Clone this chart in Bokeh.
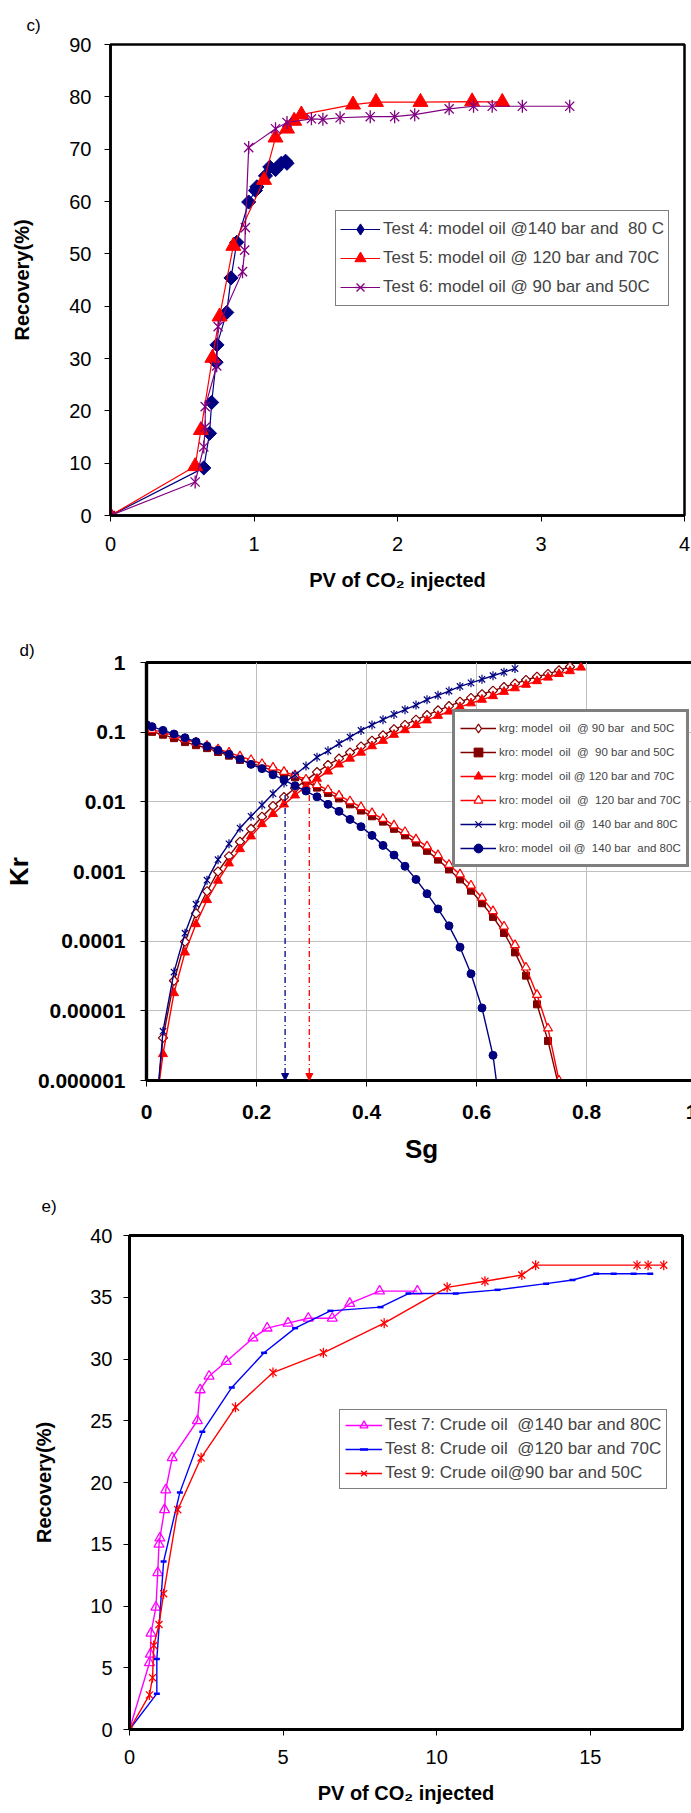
import numpy as np
from bokeh.plotting import figure
from bokeh.models import (Legend, LegendItem, FixedTicker, CustomJSTickFormatter,
                          Arrow, NormalHead, Range1d, Title)
from bokeh.embed import file_html
from bokeh.resources import INLINE

FONT = "Liberation Sans"

# ---------------- panel c data ----------------
c_t4_x = [0, 0.65, 0.69, 0.705, 0.736, 0.742, 0.81, 0.84, 0.88, 0.963, 1.01, 1.02, 1.08, 1.11, 1.15, 1.19, 1.22, 1.23]
c_t4_y = [0, 9.1, 15.7, 21.6, 29.3, 32.6, 38.8, 45.4, 52.2, 59.9, 62.1, 62.8, 64.9, 66.6, 66.1, 67.3, 67.7, 67.3]
c_t5_x = [0, 0.59, 0.63, 0.71, 0.76, 0.856, 1.07, 1.15, 1.23, 1.28, 1.33, 1.69, 1.85, 2.16, 2.52, 2.73]
c_t5_y = [0, 9.4, 16.3, 30.1, 38.0, 51.5, 64.1, 72.2, 73.9, 75.4, 76.6, 78.5, 79.0, 79.0, 79.1, 79.0]
c_t6_x = [0, 0.59, 0.65, 0.66, 0.66, 0.74, 0.75, 0.92, 0.935, 0.94, 0.963, 1.15, 1.23, 1.40, 1.48, 1.60,
          1.81, 1.98, 2.12, 2.36, 2.53, 2.66, 2.87, 3.20]
c_t6_y = [0, 6.4, 13.1, 16.9, 20.8, 28.6, 36.1, 46.6, 50.7, 55.0, 70.3, 73.9, 75.1, 75.8, 75.7, 76.0,
          76.2, 76.2, 76.6, 77.7, 78.2, 78.2, 78.2, 78.2]
c_labels = ["Test 4: model oil @140 bar and  80 C",
            "Test 5: model oil @ 120 bar and 70C",
            "Test 6: model oil @ 90 bar and 50C"]
c_xticks = [0, 1, 2, 3, 4]
c_yticks = [0, 10, 20, 30, 40, 50, 60, 70, 80, 90]

# ---------------- panel d data ----------------
sg_kro140 = [0.0, 0.01, 0.03, 0.05, 0.07, 0.09, 0.11, 0.13, 0.15, 0.17, 0.19, 0.21, 0.23, 0.25, 0.27, 0.29,
             0.31, 0.33, 0.35, 0.37, 0.39, 0.41, 0.43, 0.45, 0.47, 0.49, 0.51, 0.53, 0.55, 0.57, 0.59, 0.61, 0.63]
kro140 = [0.128, 0.120, 0.106, 0.094, 0.083, 0.073, 0.063, 0.055, 0.048, 0.041, 0.0345, 0.030, 0.0245,
          0.0206, 0.017, 0.0143, 0.0118, 0.0092, 0.0073, 0.0056, 0.0044, 0.0033, 0.00237, 0.00172, 0.00119,
          0.00077, 0.00048, 0.00029, 0.000166, 8.2e-5, 3.4e-5, 1.1e-5, 2.3e-6]
kro140_tail_sg = [0.64]
kro140_tail = [5.8e-7]

sg_kro90 = [0.0, 0.01, 0.03, 0.05, 0.07, 0.09, 0.11, 0.13, 0.15, 0.17, 0.19, 0.21, 0.23, 0.25, 0.27, 0.29,
            0.31, 0.33, 0.35, 0.37, 0.39, 0.41, 0.43, 0.45, 0.47, 0.49, 0.51, 0.53, 0.55, 0.57, 0.59, 0.61,
            0.63, 0.65, 0.67, 0.69, 0.71, 0.73]
kro90 = [0.105, 0.101, 0.092, 0.082, 0.072, 0.065, 0.059, 0.052, 0.046, 0.040, 0.036, 0.032, 0.028, 0.025,
         0.0225, 0.0198, 0.0160, 0.0134, 0.0112, 0.0092, 0.0075, 0.0062, 0.0052, 0.0041, 0.0033, 0.0026,
         0.00198, 0.00148, 0.00107, 0.00077, 0.00053, 0.00035, 0.000223, 0.000131, 6.9e-5, 3.2e-5, 1.24e-5, 3.7e-6]
kro90_tail_sg = [0.75]
kro90_tail = [8e-7]

sg_kro120 = [0.0, 0.01, 0.03, 0.05, 0.07, 0.09, 0.11, 0.13, 0.15, 0.17, 0.19, 0.21, 0.23, 0.25, 0.27, 0.29,
             0.31, 0.33, 0.35, 0.37, 0.39, 0.41, 0.43, 0.45, 0.47, 0.49, 0.51, 0.53, 0.55, 0.57, 0.59, 0.61,
             0.63, 0.65, 0.67, 0.69, 0.71, 0.73, 0.75]
kro120 = [0.112, 0.108, 0.100, 0.089, 0.079, 0.071, 0.064, 0.057, 0.051, 0.045, 0.040, 0.035, 0.031, 0.027,
          0.024, 0.021, 0.0175, 0.0148, 0.0123, 0.0102, 0.0084, 0.0069, 0.0057, 0.0046, 0.0037, 0.0029,
          0.0023, 0.00172, 0.00125, 0.00091, 0.00063, 0.00042, 0.00027, 0.000163, 8.8e-5, 4.2e-5, 1.7e-5,
          5.6e-6, 1.0e-6]

sg_krg140 = [0.03, 0.05, 0.07, 0.09, 0.11, 0.13, 0.15, 0.17, 0.19, 0.21, 0.23, 0.25, 0.27, 0.29, 0.31, 0.33,
             0.35, 0.37, 0.39, 0.41, 0.43, 0.45, 0.47, 0.49, 0.51, 0.53, 0.55, 0.57, 0.59, 0.61, 0.63, 0.65, 0.67]
krg140 = [5.1e-6, 3.6e-5, 1.3e-4, 3.4e-4, 7.5e-4, 1.48e-3, 2.5e-3, 4.2e-3, 6.2e-3, 9.0e-3, 0.0131, 0.0187,
          0.0243, 0.0326, 0.0438, 0.054, 0.0686, 0.085, 0.106, 0.127, 0.151, 0.18, 0.21, 0.245, 0.293, 0.338,
          0.389, 0.453, 0.51, 0.574, 0.646, 0.727, 0.818]
sg_krg90 = [0.03, 0.05, 0.07, 0.09, 0.11, 0.13, 0.15, 0.17, 0.19, 0.21, 0.23, 0.25, 0.27, 0.29, 0.31, 0.33,
            0.35, 0.37, 0.39, 0.41, 0.43, 0.45, 0.47, 0.49, 0.51, 0.53, 0.55, 0.57, 0.59, 0.61, 0.63, 0.65,
            0.67, 0.69, 0.71, 0.73, 0.75, 0.77]
krg90 = [4.1e-6, 2.7e-5, 9.8e-5, 2.5e-4, 5.2e-4, 1.0e-3, 1.66e-3, 2.67e-3, 4.1e-3, 6.1e-3, 8.7e-3, 0.0117,
         0.0157, 0.0203, 0.0267, 0.0338, 0.0418, 0.051, 0.0624, 0.0753, 0.09, 0.11, 0.127, 0.151, 0.176,
         0.206, 0.237, 0.273, 0.31, 0.35, 0.394, 0.443, 0.498, 0.561, 0.624, 0.686, 0.771, 0.868]
sg_krg120 = [0.03, 0.05, 0.07, 0.09, 0.11, 0.13, 0.15, 0.17, 0.19, 0.21, 0.23, 0.25, 0.27, 0.29, 0.31, 0.33,
             0.35, 0.37, 0.39, 0.41, 0.43, 0.45, 0.47, 0.49, 0.51, 0.53, 0.55, 0.57, 0.59, 0.61, 0.63, 0.65,
             0.67, 0.69, 0.71, 0.73, 0.75, 0.77, 0.79]
krg120 = [2.4e-6, 1.8e-5, 6.9e-5, 1.76e-4, 3.9e-4, 7.4e-4, 1.31e-3, 2.1e-3, 3.2e-3, 4.8e-3, 6.7e-3, 9.2e-3,
          0.0124, 0.0166, 0.0215, 0.0273, 0.0345, 0.0418, 0.051, 0.063, 0.0753, 0.092, 0.107, 0.127, 0.148,
          0.172, 0.198, 0.229, 0.26, 0.293, 0.33, 0.38, 0.428, 0.481, 0.541, 0.609, 0.686, 0.753, 0.848]
krg_head_sg = [0.02]
krg_head = [6e-7]

cross_sg = [0.252, 0.296]
cross_kr_top = [0.0125, 0.0125]
d_labels = ["krg: model  oil  @ 90 bar  and 50C",
            "kro: model  oil  @  90 bar and 50C",
            "krg: model  oil @ 120 bar and 70C",
            "kro: model  oil  @  120 bar and 70C",
            "krg: model  oil @  140 bar and 80C",
            "kro: model  oil @  140 bar  and 80C"]
d_xticks = [0, 0.2, 0.4, 0.6, 0.8, 1.0]
d_yticks = [1e-6, 1e-5, 1e-4, 1e-3, 1e-2, 1e-1, 1.0]

# ---------------- panel e data ----------------
e_t7_x = [0, 0.65, 0.68, 0.70, 0.86, 0.92, 0.96, 0.99, 1.14, 1.18, 1.39, 2.21, 2.30, 2.59, 3.15, 4.02,
          4.48, 5.16, 5.82, 6.60, 7.17, 8.14, 9.37]
e_t7_y = [0, 5.4, 6.1, 7.8, 9.9, 12.7, 15.0, 15.5, 17.8, 19.4, 22.0, 25.0, 27.5, 28.6, 29.8, 31.7,
          32.5, 32.9, 33.3, 33.3, 34.5, 35.5, 35.5]
e_t8_x = [0, 0.89, 0.89, 1.11, 1.64, 2.37, 3.33, 4.38, 5.39, 6.54, 8.17, 9.08, 10.62, 11.98, 13.56,
          14.42, 15.19, 15.76, 16.41, 16.95]
e_t8_y = [0, 2.9, 5.7, 13.6, 19.2, 24.1, 27.7, 30.5, 32.5, 33.9, 34.2, 35.3, 35.3, 35.6, 36.1,
          36.4, 36.9, 36.9, 36.9, 36.9]
e_t9_x = [0, 0.65, 0.75, 0.79, 0.96, 1.11, 1.57, 2.33, 3.45, 4.67, 6.31, 8.29, 10.34, 11.57, 12.77,
          13.22, 16.52, 16.88, 17.39]
e_t9_y = [0, 2.8, 4.2, 6.8, 8.5, 11.0, 17.8, 22.0, 26.1, 28.9, 30.5, 32.9, 35.8, 36.3, 36.8,
          37.6, 37.6, 37.6, 37.6]
e_labels = ["Test 7: Crude oil  @140 bar and 80C",
            "Test 8: Crude oil  @120 bar and 70C",
            "Test 9: Crude oil@90 bar and 50C"]
e_xticks = [0, 5, 10, 15]
e_yticks = [0, 5, 10, 15, 20, 25, 30, 35, 40]

NAVY, RED, PURPLE, DKRED = "#000080", "#FF0000", "#800080", "#800000"
MAGENTA, BLUE = "#FF00FF", "#0000FF"


def base_fig(fw, fh, xr, yr, bl, br, bt, bb, tag, tag_offset, tag_standoff, ylog=False, outline=2.5):
    kw = dict(frame_width=fw, frame_height=fh, x_range=xr, y_range=yr,
              min_border_left=bl, min_border_right=br, min_border_top=bt, min_border_bottom=bb,
              output_backend="svg", toolbar_location=None)
    if ylog:
        kw["y_axis_type"] = "log"
    p = figure(**kw)
    p.title = Title(text=tag, align="left", offset=tag_offset, standoff=tag_standoff,
                    text_font=FONT, text_font_size="17px", text_font_style="normal",
                    text_color="black")
    p.background_fill_color = "white"
    p.border_fill_color = "white"
    p.outline_line_color = "black"
    p.outline_line_width = outline
    p.grid.visible = False
    for ax in (p.xaxis[0], p.yaxis[0]):
        ax.axis_line_color = "black"
        ax.axis_line_width = outline
        ax.major_tick_line_color = "black"
        ax.major_tick_line_width = 1
        ax.major_tick_in = 0
        ax.major_tick_out = 6
        ax.minor_tick_line_color = None
        ax.major_label_text_font = FONT
        ax.major_label_text_color = "black"
        ax.axis_label_text_font = FONT
        ax.axis_label_text_font_style = "bold"
        ax.axis_label_text_color = "black"
    return p


def add_star(p, x, y, color, size, lw):
    r1 = p.scatter(x=x, y=y, marker="x", size=size, line_color=color, line_width=lw)
    r2 = p.scatter(x=x, y=y, marker="dash", angle=np.pi / 2, size=size, line_color=color, line_width=lw)
    return [r1, r2]


def make_legend(p, items, loc, fs, glyph_w, gh, spacing, padding, border_w):
    lg = Legend(items=items, location=loc, label_text_font=FONT, label_text_font_size=fs,
                glyph_width=glyph_w, glyph_height=gh, label_height=gh, label_standoff=3,
                spacing=spacing, padding=padding, margin=0,
                border_line_color="black", border_line_width=border_w,
                background_fill_color="white", background_fill_alpha=1.0)
    p.add_layout(lg)


# ================= panel c =================
pc = base_fig(574, 471, Range1d(0, 4), Range1d(0, 90), 110, 7, 44, 105, "c)", -84, 19)
pc.xaxis[0].ticker = FixedTicker(ticks=c_xticks)
pc.yaxis[0].ticker = FixedTicker(ticks=c_yticks)
for ax in (pc.xaxis[0], pc.yaxis[0]):
    ax.major_label_text_font_size = "20px"
    ax.axis_label_text_font_size = "20px"
pc.xaxis[0].major_label_standoff = 15
pc.yaxis[0].major_label_standoff = 13
pc.yaxis[0].axis_label = "Recovery(%)"
pc.yaxis[0].axis_label_standoff = 33
pc.xaxis[0].axis_label = "PV of CO\u2082 injected"
pc.xaxis[0].axis_label_standoff = 15

l4 = pc.line(c_t4_x, c_t4_y, line_color=NAVY, line_width=1.2)
# legend-only diamond (drawn tiny underneath the rotated squares)
m4_leg = pc.scatter(c_t4_x, c_t4_y, marker="diamond", size=1, fill_color=NAVY, line_color=NAVY)
m4 = pc.scatter(c_t4_x, c_t4_y, marker="square", angle=np.pi / 4, size=10, fill_color=NAVY, line_color=NAVY)
l5 = pc.line(c_t5_x, c_t5_y, line_color=RED, line_width=1.2)
m5 = pc.scatter(c_t5_x, c_t5_y, marker="triangle", size=15, fill_color=RED, line_color=RED)
l6 = pc.line(c_t6_x, c_t6_y, line_color=PURPLE, line_width=1.2)
m6 = add_star(pc, c_t6_x, c_t6_y, PURPLE, 13, 1.3)

make_legend(pc, [LegendItem(label=c_labels[0], renderers=[l4, m4_leg]),
                 LegendItem(label=c_labels[1], renderers=[l5, m5]),
                 LegendItem(label=c_labels[2], renderers=[l6] + m6)],
            (225, 209), "17px", 40, 28, 1, 4, 1.2)

# ================= panel d =================
pdd = base_fig(550, 418, Range1d(0, 1), Range1d(1e-6, 1), 140, 1, 42, 90, "d)", -127, 6,
               ylog=True, outline=3.2)
pdd.xaxis[0].ticker = FixedTicker(ticks=d_xticks)
pdd.yaxis[0].ticker = FixedTicker(ticks=d_yticks, minor_ticks=[])
pdd.xaxis[0].formatter = CustomJSTickFormatter(code="return tick.toFixed(1).replace(/\\.0$/, '');")
pdd.yaxis[0].formatter = CustomJSTickFormatter(
    code="const n = Math.round(-Math.log10(tick)); return n <= 0 ? '1' : tick.toFixed(n);")
for ax in (pdd.xaxis[0], pdd.yaxis[0]):
    ax.major_label_text_font_size = "21px"
    ax.major_label_text_font_style = "bold"
    ax.axis_label_text_font_size = "26px"
pdd.xaxis[0].major_label_standoff = 18
pdd.yaxis[0].major_label_standoff = 15
pdd.xaxis[0].axis_label = "Sg"
pdd.xaxis[0].axis_label_standoff = 12
pdd.yaxis[0].axis_label = "Kr"
pdd.yaxis[0].axis_label_standoff = 1
pdd.xgrid.visible = True
pdd.ygrid.visible = True
pdd.xgrid.ticker = FixedTicker(ticks=d_xticks)
pdd.ygrid.ticker = FixedTicker(ticks=d_yticks, minor_ticks=[])
pdd.grid.grid_line_color = "#C0C0C0"
pdd.grid.grid_line_width = 1

LW = 1.4
a1 = pdd.line(krg_head_sg + sg_krg90, krg_head + krg90, line_color=DKRED, line_width=LW)
b1_leg = pdd.scatter(sg_krg90, krg90, marker="diamond", size=1, fill_color="white", line_color=DKRED,
                     line_width=1.2)
b1 = pdd.scatter(sg_krg90, krg90, marker="square", angle=np.pi / 4, size=6.5,
                 fill_color="white", line_color=DKRED, line_width=1.2)
a2 = pdd.line(sg_kro90 + kro90_tail_sg, kro90 + kro90_tail, line_color=DKRED, line_width=LW)
b2 = pdd.scatter(sg_kro90, kro90, marker="square", size=7, fill_color=DKRED, line_color=DKRED)
a3 = pdd.line(krg_head_sg + sg_krg120, krg_head + krg120, line_color=RED, line_width=LW)
b3 = pdd.scatter(sg_krg120, krg120, marker="triangle", size=9, fill_color=RED, line_color=RED)
a4 = pdd.line(sg_kro120, kro120, line_color=RED, line_width=LW)
b4 = pdd.scatter(sg_kro120, kro120, marker="triangle", size=9, fill_color="white", line_color=RED,
                 line_width=1.2)
a5 = pdd.line(krg_head_sg + sg_krg140, krg_head + krg140, line_color=NAVY, line_width=LW)
b5 = add_star(pdd, sg_krg140, krg140, NAVY, 9, 1.2)
a6 = pdd.line(sg_kro140 + kro140_tail_sg, kro140 + kro140_tail, line_color=NAVY, line_width=LW)
b6 = pdd.scatter(sg_kro140, kro140, marker="circle", size=8, fill_color=NAVY, line_color=NAVY)

for sgv, top, col in zip(cross_sg, cross_kr_top, [NAVY, RED]):
    pdd.add_layout(Arrow(end=NormalHead(size=7, fill_color=col, line_color=col),
                         x_start=sgv, y_start=top, x_end=sgv, y_end=1e-6,
                         line_color=col, line_width=1.3, line_dash="6 3 1 3"))

make_legend(pdd, [LegendItem(label=d_labels[0], renderers=[a1, b1_leg]),
                  LegendItem(label=d_labels[1], renderers=[a2, b2]),
                  LegendItem(label=d_labels[2], renderers=[a3, b3]),
                  LegendItem(label=d_labels[3], renderers=[a4, b4]),
                  LegendItem(label=d_labels[4], renderers=[a5] + b5),
                  LegendItem(label=d_labels[5], renderers=[a6, b6])],
            (306, 213), "11.5px", 36, 22, 2, 5, 3)

# ================= panel e =================
pe = base_fig(553, 494, Range1d(0, 18), Range1d(0, 40), 129, 9, 65, 84, "e)", -88, 40, outline=3)
pe.xaxis[0].ticker = FixedTicker(ticks=e_xticks)
pe.yaxis[0].ticker = FixedTicker(ticks=e_yticks)
for ax in (pe.xaxis[0], pe.yaxis[0]):
    ax.major_label_text_font_size = "20px"
    ax.axis_label_text_font_size = "20px"
pe.xaxis[0].major_label_standoff = 14
pe.yaxis[0].major_label_standoff = 11
pe.yaxis[0].axis_label = "Recovery(%)"
pe.yaxis[0].axis_label_standoff = 32
pe.xaxis[0].axis_label = "PV of CO\u2082 injected"
pe.xaxis[0].axis_label_standoff = 15

e7l = pe.line(e_t7_x, e_t7_y, line_color=MAGENTA, line_width=1.4)
e7m = pe.scatter(e_t7_x, e_t7_y, marker="triangle", size=10, fill_color="white", fill_alpha=0.0,
                 line_color=MAGENTA, line_width=1.3)
e8l = pe.line(e_t8_x, e_t8_y, line_color=BLUE, line_width=1.4)
e8m = pe.scatter(e_t8_x, e_t8_y, marker="dash", size=6, line_color=BLUE, line_width=2.5)
e9l = pe.line(e_t9_x, e_t9_y, line_color=RED, line_width=1.4)
e9m = add_star(pe, e_t9_x, e_t9_y, RED, 10, 1.3)

make_legend(pe, [LegendItem(label=e_labels[0], renderers=[e7l, e7m]),
                 LegendItem(label=e_labels[1], renderers=[e8l, e8m]),
                 LegendItem(label=e_labels[2], renderers=[e9l] + e9m)],
            (210, 240), "17px", 37, 20, 4, 5, 1.2)

open("out.html", "w").write(file_html([pc, pdd, pe], INLINE))
